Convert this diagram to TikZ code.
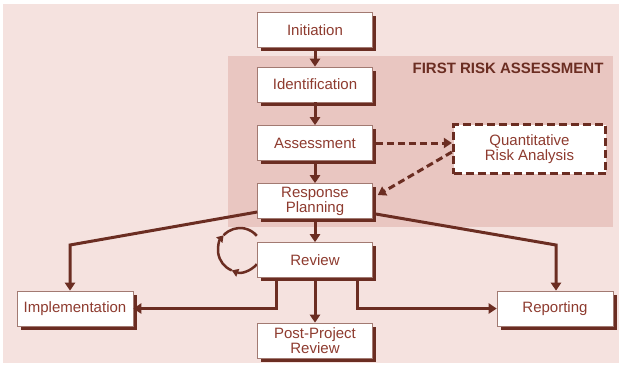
\documentclass[tikz,border=0pt]{standalone}
\usepackage{fontspec}
\setmainfont{Liberation Sans}
\usetikzlibrary{arrows.meta,shadows}
\definecolor{bgpink}{HTML}{F5E2DF}
\definecolor{zonepink}{HTML}{E9C6C1}
\definecolor{linebrown}{HTML}{6B2D22}
\definecolor{textbrown}{HTML}{8E3B2F}
\definecolor{edgebrown}{HTML}{A27A72}
\tikzset{
	stage/.style={draw=edgebrown,line width=.6pt,fill=white,minimum width=115pt,minimum height=35pt,inner sep=1pt,
		align=center,text=textbrown,font=\fontsize{15}{15}\selectfont,
		drop shadow={shadow xshift=3.5pt,shadow yshift=-3.5pt,fill=linebrown,opacity=1}},
	quantbox/.style={draw=linebrown,line width=3.2pt,dash pattern=on 8pt off 4pt,fill=white,minimum width=152pt,minimum height=49pt,
		align=center,text=textbrown,font=\fontsize{15}{15}\selectfont},
	flow/.style={draw=linebrown,line width=3pt,-{Triangle[width=10pt,length=8pt]}},
	dflow/.style={flow,dash pattern=on 7pt off 4pt},
	cycarc/.style={draw=linebrown,line width=2.5pt,-{Triangle[width=8pt,length=6.5pt]}}
}
\begin{document}
\begin{tikzpicture}[x=1pt,y=-1pt]
	\useasboundingbox(0,0)rectangle(622,365);
	\fill[bgpink](3,4)rectangle(619,363);
	\fill[zonepink](228,56)rectangle(613,227);
	\node[anchor=east,text=linebrown,font=\fontsize{15}{15}\selectfont\bfseries](zone)at(607,68){FIRST RISK ASSESSMENT};
	\coordinate(cyc)at(240,250);
	\draw[cycarc](cyc)++(40:22)arc[start angle=40,end angle=112,radius=22];
	\draw[cycarc](cyc)++(112:22)arc[start angle=112,end angle=222,radius=22];
	\draw[draw=linebrown,line width=2.5pt](cyc)++(222:22)arc[start angle=222,end angle=320,radius=22];
	\node[stage](init)at(315,30){Initiation};
	\node[stage](ident)at(315,84.5){Identification};
	\node[stage](assess)at(315,143){Assessment};
	\node[stage](plan)at(315,201){Response\\Planning};
	\node[stage](review)at(315,260){Review};
	\node[stage](post)at(315,340.5){Post-Project\\Review};
	\node[stage,minimum width=116pt](impl)at(75,308.5){Implementation};
	\node[stage,minimum width=116pt](report)at(555,308.5){Reporting};
	\node[quantbox](quant)at(529.5,149){Quantitative\\Risk Analysis};
	\foreach \a/\b in{init/ident,ident/assess,assess/plan,plan/review,review/post}{
		\draw[flow](\a.south)--(\b.north);
	}
	\coordinate(lbend)at(70,245);
	\coordinate(rbend)at(556,245);
	\draw[flow]([yshift=-11pt]plan.west)--(lbend)--(lbend|-impl.north);
	\draw[flow]([yshift=-13pt,xshift=3pt]plan.east)--(rbend)--(rbend|-report.north);
	\draw[flow]([xshift=-39pt]review.south)|-(impl.east);
	\draw[flow]([xshift=42pt]review.south)|-(report.west);
	\draw[dflow]([xshift=3pt]assess.east)--(assess.east-|quant.west);
	\draw[dflow]([yshift=-3pt]quant.west)--([xshift=5pt,yshift=6pt]plan.east);
\end{tikzpicture}
\end{document}
